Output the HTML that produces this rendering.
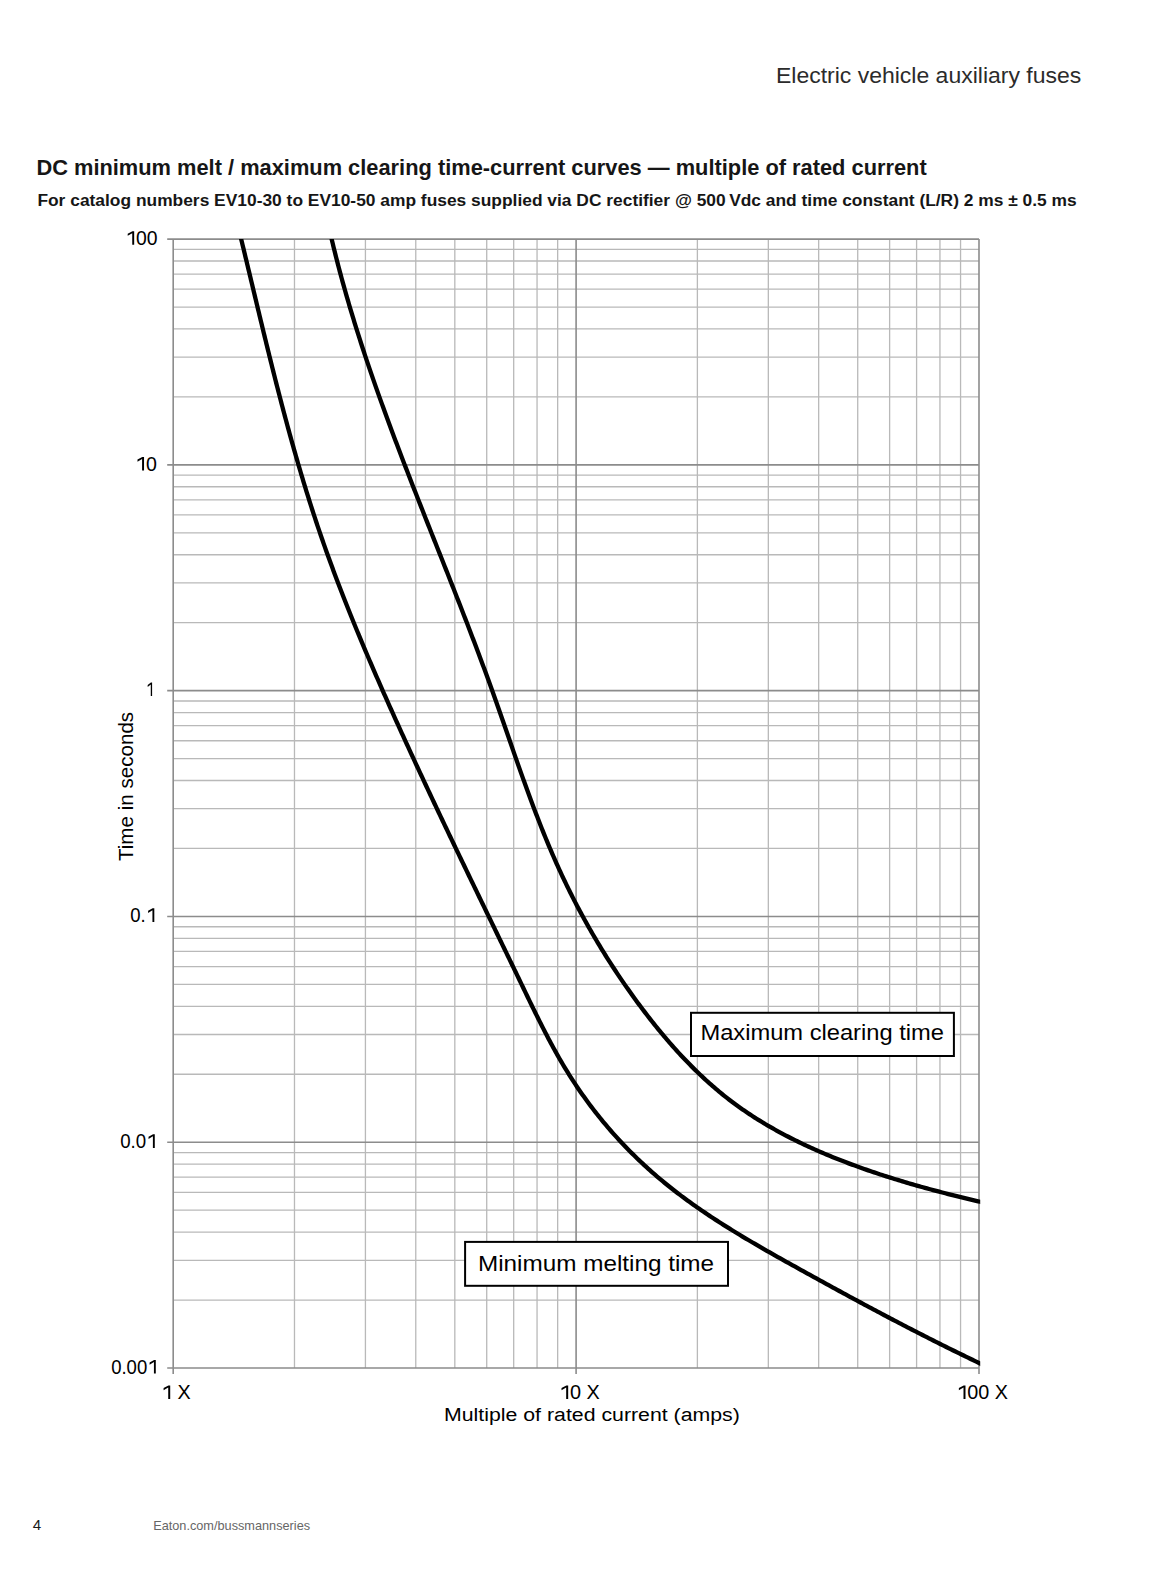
<!DOCTYPE html><html><head><meta charset="utf-8"><style>html,body{margin:0;padding:0;background:#fff;width:1164px;height:1581px;overflow:hidden}svg{position:absolute;left:0;top:0;display:block}text{font-family:"Liberation Sans",sans-serif}</style></head><body>
<svg width="1164" height="1581" viewBox="0 0 1164 1581">
<defs><clipPath id="pc"><rect x="172.20" y="238.90" width="808.00" height="1129.90"/></clipPath></defs>
<path d="M294.48,239.10V1368.00M365.43,239.10V1368.00M415.77,239.10V1368.00M454.82,239.10V1368.00M486.72,239.10V1368.00M513.69,239.10V1368.00M537.05,239.10V1368.00M557.66,239.10V1368.00M697.38,239.10V1368.00M768.33,239.10V1368.00M818.67,239.10V1368.00M857.72,239.10V1368.00M889.62,239.10V1368.00M916.59,239.10V1368.00M939.95,239.10V1368.00M960.56,239.10V1368.00M173.20,1300.03H979.00M173.20,1260.28H979.00M173.20,1232.07H979.00M173.20,1210.19H979.00M173.20,1192.31H979.00M173.20,1177.19H979.00M173.20,1164.10H979.00M173.20,1152.55H979.00M173.20,1074.25H979.00M173.20,1034.50H979.00M173.20,1006.29H979.00M173.20,984.41H979.00M173.20,966.53H979.00M173.20,951.41H979.00M173.20,938.32H979.00M173.20,926.77H979.00M173.20,848.47H979.00M173.20,808.72H979.00M173.20,780.51H979.00M173.20,758.63H979.00M173.20,740.75H979.00M173.20,725.63H979.00M173.20,712.54H979.00M173.20,700.99H979.00M173.20,622.69H979.00M173.20,582.94H979.00M173.20,554.73H979.00M173.20,532.85H979.00M173.20,514.97H979.00M173.20,499.85H979.00M173.20,486.76H979.00M173.20,475.21H979.00M173.20,396.91H979.00M173.20,357.16H979.00M173.20,328.95H979.00M173.20,307.07H979.00M173.20,289.19H979.00M173.20,274.07H979.00M173.20,260.98H979.00M173.20,249.43H979.00" stroke="#b9b9b9" stroke-width="1.3" fill="none"/>
<path d="M173.20,239.10V1374.00M576.10,239.10V1374.00M979.00,239.10V1374.00M167.20,239.10H979.00M167.20,464.88H979.00M167.20,690.66H979.00M167.20,916.44H979.00M167.20,1142.22H979.00M167.20,1368.00H979.00" stroke="#8c8c8c" stroke-width="1.6" fill="none"/>
<g clip-path="url(#pc)" fill="none" stroke="#000" stroke-width="4.3" stroke-linejoin="round">
<path d="M237.95,225.85 L238.52,228.20 L239.10,230.55 L239.67,232.89 L240.24,235.24 L240.81,237.59 L241.38,239.94 L241.95,242.29 L242.52,244.64 L243.09,246.99 L243.65,249.34 L244.22,251.69 L244.79,254.04 L245.35,256.39 L245.92,258.74 L246.49,261.09 L247.05,263.44 L247.61,265.79 L248.18,268.15 L248.74,270.50 L249.31,272.85 L249.87,275.20 L250.44,277.56 L251.00,279.91 L251.56,282.26 L252.13,284.61 L252.69,286.97 L253.25,289.32 L253.82,291.67 L254.38,294.03 L254.95,296.38 L255.51,298.73 L256.08,301.09 L256.64,303.44 L257.21,305.79 L257.77,308.15 L258.34,310.50 L258.91,312.85 L259.47,315.20 L260.04,317.56 L260.61,319.91 L261.18,322.26 L261.75,324.62 L262.32,326.97 L262.89,329.32 L263.46,331.67 L264.03,334.02 L264.61,336.38 L265.18,338.73 L265.76,341.08 L266.33,343.43 L266.91,345.78 L267.49,348.13 L268.07,350.48 L268.65,352.83 L269.23,355.18 L269.81,357.53 L270.40,359.88 L270.98,362.23 L271.57,364.58 L272.16,366.93 L272.75,369.28 L273.34,371.62 L273.93,373.97 L274.52,376.32 L275.12,378.66 L275.71,381.01 L276.31,383.35 L276.91,385.70 L277.51,388.04 L278.12,390.39 L278.72,392.73 L279.33,395.07 L279.94,397.42 L280.55,399.76 L281.16,402.10 L281.77,404.44 L282.39,406.78 L283.01,409.12 L283.63,411.46 L284.25,413.80 L284.87,416.13 L285.50,418.47 L286.13,420.81 L286.76,423.14 L287.39,425.48 L288.03,427.81 L288.67,430.15 L289.31,432.48 L289.95,434.81 L290.59,437.14 L291.24,439.47 L291.89,441.80 L292.54,444.13 L293.20,446.46 L293.86,448.79 L294.52,451.11 L295.18,453.44 L295.85,455.76 L296.52,458.09 L297.19,460.41 L297.86,462.73 L298.54,465.06 L299.22,467.38 L299.90,469.69 L300.59,472.01 L301.28,474.33 L301.97,476.65 L302.67,478.96 L303.37,481.28 L304.07,483.59 L304.77,485.90 L305.48,488.21 L306.19,490.53 L306.91,492.83 L307.63,495.14 L308.35,497.45 L309.07,499.76 L309.80,502.06 L310.54,504.36 L311.27,506.67 L312.01,508.97 L312.75,511.27 L313.50,513.57 L314.25,515.87 L315.01,518.16 L315.77,520.46 L316.53,522.75 L317.29,525.05 L318.06,527.34 L318.84,529.63 L319.62,531.92 L320.40,534.20 L321.18,536.49 L321.97,538.78 L322.77,541.06 L323.56,543.34 L324.37,545.62 L325.17,547.90 L325.98,550.18 L326.79,552.46 L327.61,554.74 L328.43,557.01 L329.26,559.29 L330.08,561.56 L330.92,563.83 L331.75,566.10 L332.59,568.37 L333.43,570.64 L334.28,572.90 L335.13,575.17 L335.98,577.43 L336.83,579.70 L337.69,581.96 L338.55,584.22 L339.42,586.48 L340.29,588.74 L341.16,590.99 L342.04,593.25 L342.91,595.51 L343.79,597.76 L344.68,600.01 L345.57,602.27 L346.46,604.52 L347.35,606.77 L348.25,609.02 L349.14,611.26 L350.05,613.51 L350.95,615.76 L351.86,618.00 L352.77,620.24 L353.68,622.49 L354.60,624.73 L355.51,626.97 L356.43,629.21 L357.36,631.45 L358.28,633.69 L359.21,635.92 L360.14,638.16 L361.07,640.39 L362.01,642.63 L362.95,644.86 L363.89,647.09 L364.83,649.32 L365.77,651.55 L366.72,653.78 L367.67,656.01 L368.62,658.24 L369.57,660.47 L370.53,662.69 L371.48,664.92 L372.44,667.14 L373.40,669.37 L374.37,671.59 L375.33,673.81 L376.30,676.03 L377.27,678.25 L378.24,680.47 L379.21,682.69 L380.18,684.91 L381.16,687.12 L382.13,689.34 L383.11,691.56 L384.09,693.77 L385.07,695.99 L386.06,698.20 L387.04,700.41 L388.03,702.62 L389.01,704.83 L390.00,707.05 L390.99,709.25 L391.98,711.46 L392.98,713.67 L393.97,715.88 L394.96,718.09 L395.96,720.29 L396.96,722.50 L397.96,724.70 L398.96,726.91 L399.96,729.11 L400.96,731.32 L401.96,733.52 L402.97,735.72 L403.97,737.92 L404.98,740.12 L405.98,742.32 L406.99,744.52 L408.00,746.72 L409.01,748.92 L410.02,751.12 L411.04,753.32 L412.05,755.51 L413.06,757.71 L414.08,759.91 L415.10,762.10 L416.11,764.30 L417.13,766.49 L418.15,768.68 L419.17,770.88 L420.19,773.07 L421.21,775.26 L422.24,777.45 L423.26,779.65 L424.28,781.84 L425.31,784.03 L426.34,786.22 L427.36,788.41 L428.39,790.60 L429.42,792.78 L430.45,794.97 L431.48,797.16 L432.51,799.35 L433.54,801.53 L434.57,803.72 L435.61,805.91 L436.64,808.09 L437.68,810.28 L438.71,812.46 L439.75,814.65 L440.78,816.83 L441.82,819.02 L442.86,821.20 L443.90,823.38 L444.94,825.57 L445.98,827.75 L447.02,829.93 L448.06,832.11 L449.10,834.30 L450.14,836.48 L451.19,838.66 L452.23,840.84 L453.27,843.02 L454.32,845.20 L455.36,847.38 L456.41,849.56 L457.45,851.74 L458.50,853.92 L459.55,856.10 L460.59,858.28 L461.64,860.46 L462.69,862.64 L463.74,864.81 L464.79,866.99 L465.84,869.17 L466.89,871.35 L467.94,873.53 L468.99,875.70 L470.04,877.88 L471.09,880.06 L472.14,882.23 L473.19,884.41 L474.24,886.59 L475.30,888.76 L476.35,890.94 L477.40,893.12 L478.46,895.29 L479.51,897.47 L480.56,899.64 L481.62,901.82 L482.67,904.00 L483.72,906.17 L484.78,908.35 L485.83,910.52 L486.89,912.70 L487.94,914.88 L489.00,917.05 L490.05,919.23 L491.11,921.41 L492.16,923.58 L493.22,925.76 L494.27,927.93 L495.33,930.11 L496.38,932.29 L497.44,934.46 L498.49,936.64 L499.55,938.82 L500.60,941.00 L501.66,943.17 L502.71,945.35 L503.77,947.53 L504.83,949.71 L505.88,951.89 L506.94,954.07 L507.99,956.24 L509.04,958.42 L510.10,960.60 L511.15,962.78 L512.21,964.96 L513.26,967.14 L514.32,969.33 L515.37,971.51 L516.42,973.69 L517.48,975.87 L518.53,978.05 L519.58,980.24 L520.63,982.42 L521.69,984.60 L522.74,986.79 L523.79,988.97 L524.84,991.16 L525.90,993.34 L526.95,995.53 L528.00,997.71 L529.06,999.89 L530.12,1002.08 L531.18,1004.26 L532.24,1006.44 L533.30,1008.62 L534.37,1010.79 L535.44,1012.97 L536.52,1015.14 L537.59,1017.32 L538.67,1019.49 L539.76,1021.65 L540.85,1023.82 L541.94,1025.98 L543.04,1028.14 L544.15,1030.29 L545.26,1032.45 L546.37,1034.60 L547.50,1036.74 L548.62,1038.88 L549.76,1041.02 L550.90,1043.16 L552.05,1045.28 L553.21,1047.41 L554.37,1049.53 L555.54,1051.64 L556.72,1053.75 L557.91,1055.86 L559.11,1057.96 L560.32,1060.05 L561.53,1062.14 L562.76,1064.22 L564.00,1066.30 L565.24,1068.37 L566.50,1070.43 L567.77,1072.49 L569.05,1074.54 L570.34,1076.58 L571.64,1078.62 L572.95,1080.65 L574.27,1082.67 L575.61,1084.68 L576.95,1086.69 L578.31,1088.69 L579.68,1090.68 L581.05,1092.67 L582.44,1094.64 L583.84,1096.61 L585.25,1098.58 L586.67,1100.53 L588.11,1102.48 L589.55,1104.42 L591.00,1106.35 L592.46,1108.27 L593.94,1110.19 L595.42,1112.10 L596.91,1114.00 L598.42,1115.89 L599.93,1117.77 L601.46,1119.65 L602.99,1121.51 L604.54,1123.37 L606.09,1125.22 L607.66,1127.06 L609.23,1128.90 L610.82,1130.72 L612.41,1132.54 L614.01,1134.34 L615.63,1136.14 L617.25,1137.93 L618.88,1139.71 L620.52,1141.49 L622.18,1143.25 L623.84,1145.00 L625.51,1146.75 L627.19,1148.48 L628.87,1150.21 L630.57,1151.93 L632.28,1153.64 L634.00,1155.33 L635.72,1157.02 L637.46,1158.70 L639.20,1160.37 L640.95,1162.04 L642.71,1163.69 L644.48,1165.33 L646.26,1166.96 L648.05,1168.58 L649.84,1170.19 L651.65,1171.80 L653.46,1173.39 L655.28,1174.97 L657.11,1176.54 L658.95,1178.11 L660.80,1179.66 L662.65,1181.20 L664.51,1182.73 L666.38,1184.25 L668.26,1185.77 L670.15,1187.27 L672.04,1188.77 L673.94,1190.25 L675.85,1191.73 L677.76,1193.20 L679.69,1194.66 L681.61,1196.11 L683.55,1197.55 L685.49,1198.98 L687.44,1200.41 L689.40,1201.83 L691.36,1203.24 L693.33,1204.64 L695.30,1206.03 L697.28,1207.42 L699.27,1208.80 L701.26,1210.17 L703.25,1211.54 L705.26,1212.89 L707.26,1214.24 L709.28,1215.59 L711.29,1216.93 L713.32,1218.26 L715.35,1219.58 L717.38,1220.90 L719.41,1222.21 L721.46,1223.52 L723.50,1224.82 L725.55,1226.12 L727.61,1227.41 L729.66,1228.69 L731.73,1229.97 L733.79,1231.24 L735.86,1232.51 L737.93,1233.77 L740.01,1235.03 L742.09,1236.29 L744.17,1237.54 L746.26,1238.78 L748.34,1240.02 L750.44,1241.26 L752.53,1242.49 L754.63,1243.72 L756.72,1244.94 L758.82,1246.16 L760.93,1247.38 L763.03,1248.60 L765.14,1249.81 L767.25,1251.02 L769.36,1252.22 L771.47,1253.42 L773.58,1254.62 L775.70,1255.82 L777.81,1257.01 L779.93,1258.20 L782.05,1259.39 L784.17,1260.58 L786.29,1261.77 L788.41,1262.95 L790.53,1264.13 L792.65,1265.31 L794.77,1266.49 L796.89,1267.67 L799.01,1268.85 L801.13,1270.02 L803.25,1271.20 L805.37,1272.37 L807.49,1273.55 L809.61,1274.72 L811.73,1275.89 L813.85,1277.06 L815.97,1278.23 L818.09,1279.39 L820.21,1280.56 L822.33,1281.72 L824.45,1282.89 L826.57,1284.05 L828.69,1285.21 L830.81,1286.37 L832.93,1287.53 L835.05,1288.69 L837.17,1289.85 L839.29,1291.01 L841.41,1292.16 L843.53,1293.31 L845.66,1294.47 L847.78,1295.62 L849.90,1296.77 L852.02,1297.92 L854.15,1299.06 L856.27,1300.21 L858.40,1301.35 L860.52,1302.50 L862.65,1303.64 L864.77,1304.78 L866.90,1305.92 L869.03,1307.06 L871.15,1308.19 L873.28,1309.33 L875.41,1310.46 L877.54,1311.59 L879.67,1312.72 L881.81,1313.85 L883.94,1314.98 L886.07,1316.11 L888.21,1317.23 L890.34,1318.36 L892.48,1319.48 L894.61,1320.60 L896.75,1321.72 L898.89,1322.83 L901.03,1323.95 L903.17,1325.06 L905.31,1326.18 L907.46,1327.29 L909.60,1328.40 L911.75,1329.50 L913.89,1330.61 L916.04,1331.71 L918.19,1332.82 L920.34,1333.92 L922.49,1335.02 L924.65,1336.11 L926.80,1337.21 L928.96,1338.30 L931.12,1339.40 L933.27,1340.49 L935.43,1341.58 L937.60,1342.66 L939.76,1343.75 L941.93,1344.83 L944.09,1345.91 L946.26,1346.99 L948.43,1348.07 L950.60,1349.15 L952.77,1350.22 L954.95,1351.29 L957.13,1352.36 L959.30,1353.43 L961.48,1354.50 L963.67,1355.56 L965.85,1356.62 L968.04,1357.68 L970.22,1358.74 L972.41,1359.80 L974.61,1360.85 L976.80,1361.91 L979.00,1362.96 L981.19,1364.01 L983.39,1365.05 L985.60,1366.10 L987.80,1367.14 L990.01,1368.18 L992.21,1369.22 L994.42,1370.25 L996.64,1371.29 L998.85,1372.32 L1001.07,1373.35 L1003.29,1374.38"/>
<path d="M328.59,225.70 L329.05,227.77 L329.52,229.85 L329.99,231.92 L330.47,233.99 L330.95,236.06 L331.43,238.13 L331.92,240.20 L332.41,242.27 L332.91,244.33 L333.41,246.40 L333.92,248.46 L334.42,250.52 L334.93,252.58 L335.45,254.64 L335.97,256.70 L336.49,258.76 L337.02,260.82 L337.55,262.87 L338.08,264.93 L338.62,266.98 L339.16,269.03 L339.70,271.08 L340.25,273.13 L340.80,275.18 L341.35,277.23 L341.91,279.27 L342.47,281.32 L343.04,283.36 L343.60,285.41 L344.17,287.45 L344.75,289.49 L345.33,291.53 L345.91,293.57 L346.49,295.61 L347.08,297.64 L347.67,299.68 L348.26,301.72 L348.86,303.75 L349.46,305.78 L350.06,307.82 L350.67,309.85 L351.27,311.88 L351.89,313.91 L352.50,315.93 L353.12,317.96 L353.74,319.99 L354.36,322.01 L354.99,324.04 L355.62,326.06 L356.25,328.08 L356.88,330.11 L357.52,332.13 L358.16,334.15 L358.80,336.17 L359.45,338.19 L360.10,340.20 L360.75,342.22 L361.40,344.24 L362.05,346.25 L362.71,348.27 L363.37,350.28 L364.04,352.29 L364.70,354.30 L365.37,356.31 L366.04,358.32 L366.71,360.33 L367.39,362.34 L368.07,364.35 L368.75,366.36 L369.43,368.36 L370.11,370.37 L370.80,372.37 L371.49,374.38 L372.18,376.38 L372.87,378.38 L373.57,380.39 L374.26,382.39 L374.96,384.39 L375.66,386.39 L376.37,388.39 L377.07,390.39 L377.78,392.38 L378.49,394.38 L379.20,396.38 L379.91,398.37 L380.63,400.37 L381.35,402.36 L382.07,404.36 L382.79,406.35 L383.51,408.34 L384.23,410.33 L384.96,412.33 L385.69,414.32 L386.41,416.31 L387.14,418.30 L387.88,420.29 L388.61,422.27 L389.35,424.26 L390.08,426.25 L390.82,428.24 L391.56,430.22 L392.30,432.21 L393.05,434.19 L393.79,436.18 L394.54,438.16 L395.28,440.15 L396.03,442.13 L396.78,444.11 L397.53,446.10 L398.28,448.08 L399.04,450.06 L399.79,452.04 L400.55,454.02 L401.30,456.00 L402.06,457.98 L402.82,459.96 L403.58,461.94 L404.34,463.92 L405.11,465.90 L405.87,467.87 L406.63,469.85 L407.40,471.83 L408.16,473.81 L408.93,475.78 L409.70,477.76 L410.47,479.73 L411.24,481.71 L412.01,483.68 L412.78,485.66 L413.55,487.63 L414.32,489.61 L415.10,491.58 L415.87,493.55 L416.65,495.53 L417.42,497.50 L418.20,499.47 L418.97,501.44 L419.75,503.41 L420.53,505.39 L421.30,507.36 L422.08,509.33 L422.86,511.30 L423.64,513.27 L424.42,515.24 L425.20,517.21 L425.98,519.18 L426.76,521.15 L427.54,523.12 L428.32,525.09 L429.10,527.06 L429.89,529.03 L430.67,531.00 L431.45,532.97 L432.23,534.93 L433.01,536.90 L433.79,538.87 L434.58,540.84 L435.36,542.81 L436.14,544.78 L436.92,546.74 L437.71,548.71 L438.49,550.68 L439.27,552.65 L440.05,554.61 L440.83,556.58 L441.61,558.55 L442.40,560.52 L443.18,562.49 L443.96,564.45 L444.74,566.42 L445.52,568.39 L446.30,570.36 L447.08,572.33 L447.86,574.29 L448.64,576.26 L449.42,578.23 L450.19,580.20 L450.97,582.17 L451.75,584.14 L452.53,586.11 L453.30,588.08 L454.08,590.04 L454.85,592.01 L455.63,593.98 L456.40,595.95 L457.17,597.92 L457.95,599.89 L458.72,601.87 L459.49,603.84 L460.26,605.81 L461.03,607.78 L461.80,609.75 L462.57,611.72 L463.33,613.70 L464.10,615.67 L464.87,617.64 L465.63,619.62 L466.39,621.59 L467.16,623.57 L467.92,625.54 L468.68,627.52 L469.44,629.49 L470.20,631.47 L470.95,633.44 L471.71,635.42 L472.47,637.40 L473.22,639.38 L473.97,641.36 L474.73,643.33 L475.48,645.31 L476.23,647.29 L476.97,649.28 L477.72,651.26 L478.47,653.24 L479.21,655.22 L479.95,657.20 L480.69,659.19 L481.43,661.17 L482.17,663.16 L482.91,665.14 L483.64,667.13 L484.38,669.12 L485.11,671.10 L485.84,673.09 L486.57,675.08 L487.30,677.07 L488.03,679.06 L488.75,681.05 L489.47,683.05 L490.19,685.04 L490.91,687.03 L491.63,689.03 L492.35,691.02 L493.06,693.02 L493.77,695.01 L494.48,697.01 L495.19,699.01 L495.90,701.01 L496.61,703.01 L497.31,705.01 L498.02,707.01 L498.72,709.01 L499.42,711.01 L500.12,713.01 L500.82,715.02 L501.52,717.02 L502.22,719.02 L502.92,721.03 L503.62,723.03 L504.31,725.03 L505.01,727.04 L505.71,729.04 L506.40,731.05 L507.10,733.05 L507.79,735.06 L508.49,737.06 L509.18,739.07 L509.88,741.07 L510.58,743.08 L511.27,745.08 L511.97,747.08 L512.67,749.09 L513.37,751.09 L514.06,753.10 L514.76,755.10 L515.46,757.10 L516.17,759.10 L516.87,761.11 L517.57,763.11 L518.27,765.11 L518.98,767.11 L519.69,769.11 L520.39,771.11 L521.10,773.11 L521.82,775.11 L522.53,777.10 L523.24,779.10 L523.96,781.10 L524.68,783.09 L525.40,785.09 L526.12,787.08 L526.84,789.07 L527.57,791.06 L528.30,793.05 L529.03,795.04 L529.76,797.03 L530.49,799.02 L531.23,801.01 L531.97,802.99 L532.72,804.98 L533.46,806.96 L534.21,808.94 L534.96,810.92 L535.72,812.90 L536.48,814.88 L537.24,816.85 L538.00,818.83 L538.77,820.80 L539.54,822.77 L540.32,824.74 L541.09,826.71 L541.88,828.68 L542.66,830.64 L543.45,832.61 L544.25,834.57 L545.04,836.53 L545.84,838.49 L546.65,840.44 L547.46,842.40 L548.27,844.35 L549.09,846.30 L549.92,848.25 L550.74,850.20 L551.58,852.14 L552.41,854.08 L553.25,856.02 L554.10,857.96 L554.95,859.90 L555.81,861.83 L556.67,863.76 L557.54,865.69 L558.41,867.62 L559.29,869.54 L560.17,871.47 L561.06,873.39 L561.95,875.30 L562.85,877.22 L563.76,879.13 L564.67,881.04 L565.58,882.95 L566.50,884.85 L567.43,886.75 L568.36,888.65 L569.30,890.55 L570.24,892.45 L571.19,894.34 L572.14,896.23 L573.10,898.11 L574.06,900.00 L575.03,901.88 L576.01,903.76 L576.99,905.64 L577.97,907.51 L578.96,909.38 L579.96,911.25 L580.96,913.12 L581.97,914.98 L582.98,916.84 L584.00,918.70 L585.02,920.55 L586.05,922.40 L587.08,924.25 L588.12,926.10 L589.16,927.94 L590.21,929.78 L591.27,931.62 L592.33,933.46 L593.39,935.29 L594.46,937.12 L595.54,938.94 L596.62,940.77 L597.70,942.59 L598.79,944.41 L599.89,946.22 L600.99,948.03 L602.10,949.84 L603.21,951.65 L604.32,953.45 L605.45,955.25 L606.57,957.05 L607.71,958.84 L608.84,960.63 L609.99,962.42 L611.13,964.20 L612.29,965.98 L613.45,967.76 L614.61,969.54 L615.78,971.31 L616.95,973.08 L618.13,974.84 L619.31,976.61 L620.50,978.37 L621.70,980.12 L622.90,981.87 L624.10,983.62 L625.31,985.37 L626.52,987.11 L627.74,988.85 L628.97,990.59 L630.20,992.32 L631.43,994.05 L632.67,995.78 L633.92,997.51 L635.17,999.23 L636.42,1000.94 L637.68,1002.66 L638.95,1004.37 L640.22,1006.07 L641.49,1007.78 L642.77,1009.48 L644.05,1011.17 L645.35,1012.86 L646.64,1014.55 L647.94,1016.24 L649.25,1017.92 L650.56,1019.59 L651.87,1021.27 L653.20,1022.93 L654.52,1024.60 L655.86,1026.26 L657.20,1027.91 L658.54,1029.56 L659.89,1031.20 L661.24,1032.84 L662.61,1034.47 L663.97,1036.10 L665.35,1037.73 L666.73,1039.34 L668.11,1040.95 L669.50,1042.56 L670.90,1044.16 L672.30,1045.75 L673.71,1047.34 L675.13,1048.92 L676.55,1050.50 L677.97,1052.07 L679.41,1053.63 L680.85,1055.18 L682.30,1056.73 L683.75,1058.27 L685.21,1059.81 L686.68,1061.34 L688.15,1062.86 L689.63,1064.37 L691.12,1065.87 L692.61,1067.37 L694.11,1068.86 L695.62,1070.34 L697.13,1071.82 L698.65,1073.28 L700.18,1074.74 L701.72,1076.19 L703.26,1077.63 L704.81,1079.06 L706.36,1080.49 L707.93,1081.90 L709.50,1083.31 L711.08,1084.71 L712.66,1086.09 L714.26,1087.47 L715.86,1088.84 L717.47,1090.20 L719.08,1091.55 L720.71,1092.89 L722.34,1094.22 L723.98,1095.55 L725.62,1096.86 L727.28,1098.16 L728.94,1099.45 L730.61,1100.73 L732.29,1102.00 L733.97,1103.26 L735.67,1104.51 L737.37,1105.74 L739.08,1106.97 L740.80,1108.19 L742.52,1109.40 L744.25,1110.60 L745.99,1111.79 L747.74,1112.96 L749.49,1114.13 L751.25,1115.29 L753.02,1116.44 L754.79,1117.58 L756.57,1118.71 L758.36,1119.83 L760.16,1120.94 L761.96,1122.04 L763.76,1123.13 L765.57,1124.22 L767.39,1125.29 L769.22,1126.36 L771.05,1127.41 L772.89,1128.46 L774.73,1129.50 L776.58,1130.53 L778.43,1131.55 L780.29,1132.56 L782.15,1133.57 L784.02,1134.56 L785.90,1135.55 L787.78,1136.53 L789.67,1137.50 L791.56,1138.46 L793.45,1139.41 L795.35,1140.36 L797.25,1141.30 L799.16,1142.23 L801.08,1143.15 L803.00,1144.07 L804.92,1144.97 L806.84,1145.87 L808.77,1146.76 L810.71,1147.65 L812.65,1148.52 L814.59,1149.39 L816.54,1150.26 L818.48,1151.11 L820.44,1151.96 L822.39,1152.80 L824.35,1153.63 L826.32,1154.46 L828.28,1155.28 L830.25,1156.09 L832.23,1156.90 L834.20,1157.70 L836.18,1158.49 L838.16,1159.28 L840.14,1160.06 L842.13,1160.83 L844.12,1161.60 L846.11,1162.36 L848.10,1163.12 L850.10,1163.87 L852.09,1164.61 L854.09,1165.35 L856.09,1166.08 L858.09,1166.80 L860.10,1167.52 L862.10,1168.24 L864.11,1168.95 L866.12,1169.65 L868.13,1170.35 L870.14,1171.04 L872.16,1171.73 L874.17,1172.41 L876.19,1173.08 L878.21,1173.75 L880.23,1174.42 L882.25,1175.08 L884.27,1175.74 L886.29,1176.39 L888.32,1177.03 L890.34,1177.67 L892.37,1178.31 L894.40,1178.94 L896.43,1179.56 L898.46,1180.18 L900.49,1180.80 L902.52,1181.41 L904.56,1182.02 L906.59,1182.62 L908.62,1183.22 L910.66,1183.82 L912.70,1184.40 L914.73,1184.99 L916.77,1185.57 L918.81,1186.15 L920.85,1186.72 L922.89,1187.29 L924.93,1187.85 L926.97,1188.41 L929.02,1188.97 L931.06,1189.52 L933.10,1190.07 L935.15,1190.62 L937.19,1191.16 L939.24,1191.70 L941.28,1192.23 L943.33,1192.76 L945.37,1193.29 L947.42,1193.81 L949.46,1194.33 L951.51,1194.85 L953.56,1195.37 L955.60,1195.88 L957.65,1196.38 L959.70,1196.89 L961.74,1197.39 L963.79,1197.89 L965.84,1198.38 L967.88,1198.87 L969.93,1199.36 L971.98,1199.85 L974.02,1200.33 L976.07,1200.82 L978.12,1201.29 L980.16,1201.77 L982.21,1202.24 L984.25,1202.71 L986.30,1203.18 L988.34,1203.65 L990.39,1204.11 L992.43,1204.57 L994.47,1205.03 L996.51,1205.49 L998.56,1205.95 L1000.60,1206.40 L1002.64,1206.85"/>
</g>
<rect x="691" y="1012.8" width="262.9" height="43.2" fill="#fff" stroke="#000" stroke-width="2"/>
<rect x="465.1" y="1241.9" width="262.9" height="43.9" fill="#fff" stroke="#000" stroke-width="2"/>
<text x="776.00" y="82.75" font-size="21.20" fill="#2b2b2b" textLength="305.22" lengthAdjust="spacingAndGlyphs">Electric vehicle auxiliary fuses</text>
<text x="36.40" y="174.80" font-size="21.90" fill="#161616" font-weight="bold" textLength="890.33" lengthAdjust="spacingAndGlyphs">DC minimum melt / maximum clearing time-current curves — multiple of rated current</text>
<text x="37.40" y="206.00" font-size="17.20" fill="#161616" font-weight="bold" textLength="1039.33" lengthAdjust="spacingAndGlyphs">For catalog numbers EV10-30 to EV10-50 amp fuses supplied via DC rectifier @ 500 Vdc and time constant (L/R) 2 ms ± 0.5 ms</text>
<path d="M132.24,244.80 L132.24,233.26 L127.70,235.85 L127.70,233.74 L132.42,231.25 L134.18,231.25 L134.18,244.80Z" fill="#000"/>
<text x="125.24" y="244.80" font-size="19.70" fill="#000" textLength="32.30" lengthAdjust="spacingAndGlyphs"> 00</text>
<path d="M142.08,470.60 L142.08,459.06 L137.49,461.65 L137.49,459.54 L142.27,457.05 L144.04,457.05 L144.04,470.60Z" fill="#000"/>
<text x="135.00" y="470.60" font-size="19.70" fill="#000" textLength="21.78" lengthAdjust="spacingAndGlyphs"> 0</text>
<path d="M150.77,696.00 L150.77,684.46 L147.68,687.05 L147.68,684.94 L150.90,682.45 L152.10,682.45 L152.10,696.00Z" fill="#000"/>
<text x="146.00" y="696.00" font-size="19.70" fill="#000" textLength="7.34" lengthAdjust="spacingAndGlyphs"> </text>
<path d="M152.44,921.90 L152.44,910.36 L148.10,912.95 L148.10,910.84 L152.63,908.35 L154.31,908.35 L154.31,921.90Z" fill="#000"/>
<text x="130.28" y="921.90" font-size="19.70" fill="#000" textLength="25.78" lengthAdjust="spacingAndGlyphs">0. </text>
<path d="M152.90,1147.90 L152.90,1136.36 L148.53,1138.95 L148.53,1136.84 L153.09,1134.35 L154.78,1134.35 L154.78,1147.90Z" fill="#000"/>
<text x="120.20" y="1147.90" font-size="19.70" fill="#000" textLength="36.34" lengthAdjust="spacingAndGlyphs">0.0 </text>
<path d="M153.93,1373.60 L153.93,1362.06 L149.59,1364.65 L149.59,1362.54 L154.11,1360.05 L155.79,1360.05 L155.79,1373.60Z" fill="#000"/>
<text x="111.20" y="1373.60" font-size="19.70" fill="#000" textLength="46.33" lengthAdjust="spacingAndGlyphs">0.00 </text>
<path d="M168.22,1399.10 L168.22,1387.56 L163.59,1390.15 L163.59,1388.04 L168.42,1385.55 L170.21,1385.55 L170.21,1399.10Z" fill="#000"/>
<text x="161.08" y="1399.10" font-size="19.70" fill="#000" textLength="29.68" lengthAdjust="spacingAndGlyphs">  X</text>
<path d="M566.18,1399.10 L566.18,1387.56 L561.52,1390.15 L561.52,1388.04 L566.37,1385.55 L568.18,1385.55 L568.18,1399.10Z" fill="#000"/>
<text x="559.00" y="1399.10" font-size="19.70" fill="#000" textLength="40.87" lengthAdjust="spacingAndGlyphs"> 0 X</text>
<path d="M963.50,1399.10 L963.50,1387.56 L958.87,1390.15 L958.87,1388.04 L963.69,1385.55 L965.49,1385.55 L965.49,1399.10Z" fill="#000"/>
<text x="956.36" y="1399.10" font-size="19.70" fill="#000" textLength="51.65" lengthAdjust="spacingAndGlyphs"> 00 X</text>
<text x="444.00" y="1420.80" font-size="19.20" fill="#000" textLength="295.82" lengthAdjust="spacingAndGlyphs">Multiple of rated current (amps)</text>
<text x="132.70" y="861.00" font-size="19.50" fill="#000" textLength="149.15" lengthAdjust="spacingAndGlyphs" transform="rotate(-90 132.70 861.00)">Time in seconds</text>
<text x="700.40" y="1039.80" font-size="22.00" fill="#000" textLength="243.60" lengthAdjust="spacingAndGlyphs">Maximum clearing time</text>
<text x="478.00" y="1270.90" font-size="22.00" fill="#000" textLength="236.04" lengthAdjust="spacingAndGlyphs">Minimum melting time</text>
<text x="32.80" y="1529.80" font-size="15.50" fill="#1a1a1a" textLength="8.43" lengthAdjust="spacingAndGlyphs">4</text>
<text x="153.20" y="1530.20" font-size="13.60" fill="#666" textLength="156.89" lengthAdjust="spacingAndGlyphs">Eaton.com/bussmannseries</text>
</svg></body></html>
